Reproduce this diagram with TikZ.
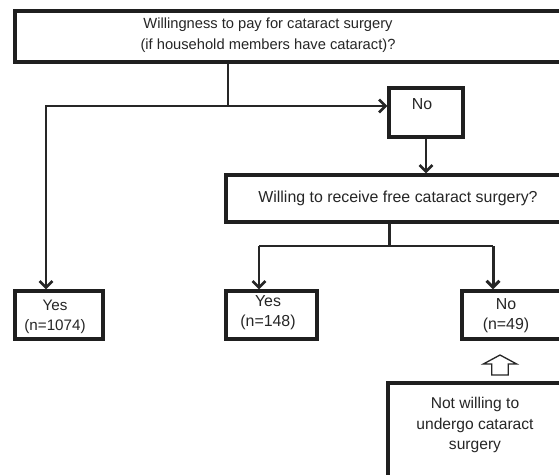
\documentclass[tikz,border=0pt]{standalone}
\usepackage{fontspec}
\setmainfont{Liberation Sans}
\usetikzlibrary{arrows.meta}
\begin{document}
\begin{tikzpicture}[x=1pt,y=-1pt,
  box/.style={draw=black!88, line width=3.1pt, inner sep=0pt},
  lbl/.style={align=center, inner sep=0pt, text=black!85, font=\fontsize{15.9}{20}\selectfont},
  con/.style={line width=2.7pt, draw=black!85},
  arr/.style={con, -{Straight Barb[length=6.5pt,width=13pt]}},
]
\clip (0,0) rectangle (559,474);
\fill[white] (0,0) rectangle (559,474);

% top question
\node[box, minimum width=575, minimum height=51] (top) at (302.5,36.5) {};
\node[lbl, font=\fontsize{14.7}{21}\selectfont] (toptext) at (268,35.5) {Willingness to pay for cataract surgery\\(if household members have cataract)?};

% No (first level)
\node[box, minimum width=74, minimum height=49] (no1) at (426,112.5) {};
\node[lbl] (no1t) at (422,104) {No};

% second question
\node[box, minimum width=374, minimum height=47] (will) at (413,198.5) {};
\node[lbl] (willt) at (398,198) {Willing to receive free cataract surgery?};

% outcomes
\node[box, minimum width=88, minimum height=48] (yes1) at (59,315) {};
\node[lbl, font=\fontsize{15.2}{20}\selectfont] (yes1t) at (55,317) {Yes\\(n=1074)};

\node[box, minimum width=91, minimum height=48] (yes2) at (271.5,315) {};
\node[lbl] (yes2t) at (268,313) {Yes\\(n=148)};

\node[box, minimum width=158, minimum height=48] (no2) at (541,315) {};
\node[lbl] (no2t) at (506,316) {No\\(n=49)};

\node[box, minimum width=212, minimum height=117] (notw) at (494,441.5) {};
\node[lbl, font=\fontsize{15.6}{20.5}\selectfont] (notwt) at (475,425) {Not willing to\\undergo cataract\\surgery};

% connectors, first level
\coordinate (j1) at (228,106);
\coordinate (c1) at (46,106);
\draw[con] (top.south -| j1) -- (j1);
\draw[arr] (j1) -- (c1) -- (c1 |- yes1.north);
\draw[arr] (j1) -- (j1 -| no1.west);
\draw[arr] (no1.south) -- (no1.south |- will.north);

% connectors, second level
\coordinate (j2) at (389,246);
\coordinate (c2) at (259,246);
\coordinate (c3) at (493,246);
\draw[con, line width=3pt] (will.south -| j2) -- (j2);
\draw[con, line width=2pt] (c2) -- (c3);
\draw[arr] (c2) -- (c2 |- yes2.north);
\draw[arr, line width=3pt] (c3) -- (c3 |- no2.north);

% hollow block arrow
\draw[line width=1.3pt, draw=black!85, fill=white, line join=miter]
  (491.7,375) -- (491.7,364) -- (483.3,364) -- (500,355) -- (516.7,364)
  -- (508.3,364) -- (508.3,375) -- cycle;
\end{tikzpicture}
\end{document}
